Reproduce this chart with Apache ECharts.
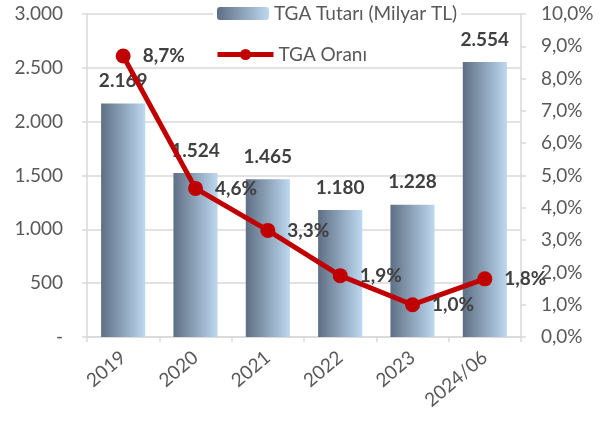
<!DOCTYPE html>
<html>
<head>
<meta charset="utf-8">
<script src="https://cdn.jsdelivr.net/npm/echarts@6/dist/echarts.min.js"></script>
<style>
    html, body { margin: 0; padding: 0; background: #fff; }
    #chart { width: 604px; height: 421px; }
</style>
</head>
<body>
<div id="chart"></div>
<script>
var years = ['2019', '2020', '2021', '2022', '2023', '2024/06'];
var tutar = [2169, 1524, 1465, 1180, 1228, 2554];
var oran = [8.7, 4.6, 3.3, 1.9, 1.0, 1.8];
var barName = 'TGA Tutarı (Milyar TL)';
var lineName = 'TGA Oranı';

var FONT = 'Lato';
var GRAY = '#d9d9d9';

function binlik(v) {
    if (v === 0) return '-';
    return String(v).replace(/\B(?=(\d{3})+(?!\d))/g, '.');
}
function yuzde(v) {
    return v.toFixed(1).replace('.', ',') + '%';
}

var mychart = echarts.init(document.getElementById('chart'));
mychart.setOption({
    animation: false,
    textStyle: { fontFamily: FONT },
    legend: [
        {
            data: [barName],
            left: 213, top: 2,
            orient: 'vertical',
            padding: [2, 4],
            itemWidth: 52, itemHeight: 13,
            backgroundColor: '#fff',
            textStyle: { fontFamily: FONT, fontSize: 19, color: '#595959' }
        },
        {
            data: [lineName],
            left: 211, top: 43,
            orient: 'vertical',
            padding: [2, 4],
            itemWidth: 56, itemHeight: 14,
            backgroundColor: '#fff',
            lineStyle: { width: 5 },
            textStyle: { fontFamily: FONT, fontSize: 19, color: '#595959' }
        }
    ],
    grid: { left: 87, right: 83, top: 14, bottom: 84 },
    xAxis: {
        type: 'category',
        data: years,
        axisLine: { lineStyle: { color: GRAY, width: 1.5 } },
        axisTick: { show: true, length: 5, lineStyle: { color: GRAY, width: 1.5 } },
        axisLabel: { rotate: 40, color: '#595959', fontSize: 19, fontFamily: FONT, margin: 18 }
    },
    yAxis: [
        {
            type: 'value', min: 0, max: 3000, interval: 500,
            axisLine: { show: true, lineStyle: { color: GRAY, width: 1.5 } },
            axisTick: { show: true, length: 5, lineStyle: { color: GRAY, width: 1.5 } },
            splitLine: { lineStyle: { color: GRAY, width: 1.5 } },
            axisLabel: { formatter: binlik, color: '#595959', fontSize: 19, fontFamily: FONT, margin: 24 }
        },
        {
            type: 'value', min: 0, max: 10, interval: 1,
            axisLine: { show: true, lineStyle: { color: GRAY, width: 1.5 } },
            axisTick: { show: true, length: 5, lineStyle: { color: GRAY, width: 1.5 } },
            splitLine: { show: false },
            axisLabel: { formatter: yuzde, color: '#595959', fontSize: 19, fontFamily: FONT, margin: 20 }
        }
    ],
    series: [
        {
            name: barName,
            type: 'bar',
            data: tutar,
            barWidth: '61%',
            itemStyle: {
                color: new echarts.graphic.LinearGradient(0, 0, 1, 0, [
                    { offset: 0, color: '#5e6f84' },
                    { offset: 1, color: '#bdd8f0' }
                ])
            },
            label: {
                show: true, position: 'top', distance: 13,
                formatter: function (p) { return binlik(p.value); },
                color: '#404040', fontWeight: 'bold', fontSize: 19, fontFamily: FONT
            }
        },
        {
            name: lineName,
            type: 'line',
            yAxisIndex: 1,
            data: oran,
            symbol: 'circle',
            symbolSize: 15,
            lineStyle: { color: '#c00000', width: 5 },
            itemStyle: { color: '#c00000' },
            label: {
                show: true, position: 'right', distance: 12,
                formatter: function (p) { return yuzde(p.value); },
                color: '#404040', fontWeight: 'bold', fontSize: 19, fontFamily: FONT
            }
        }
    ]
});
</script>
</body>
</html>
